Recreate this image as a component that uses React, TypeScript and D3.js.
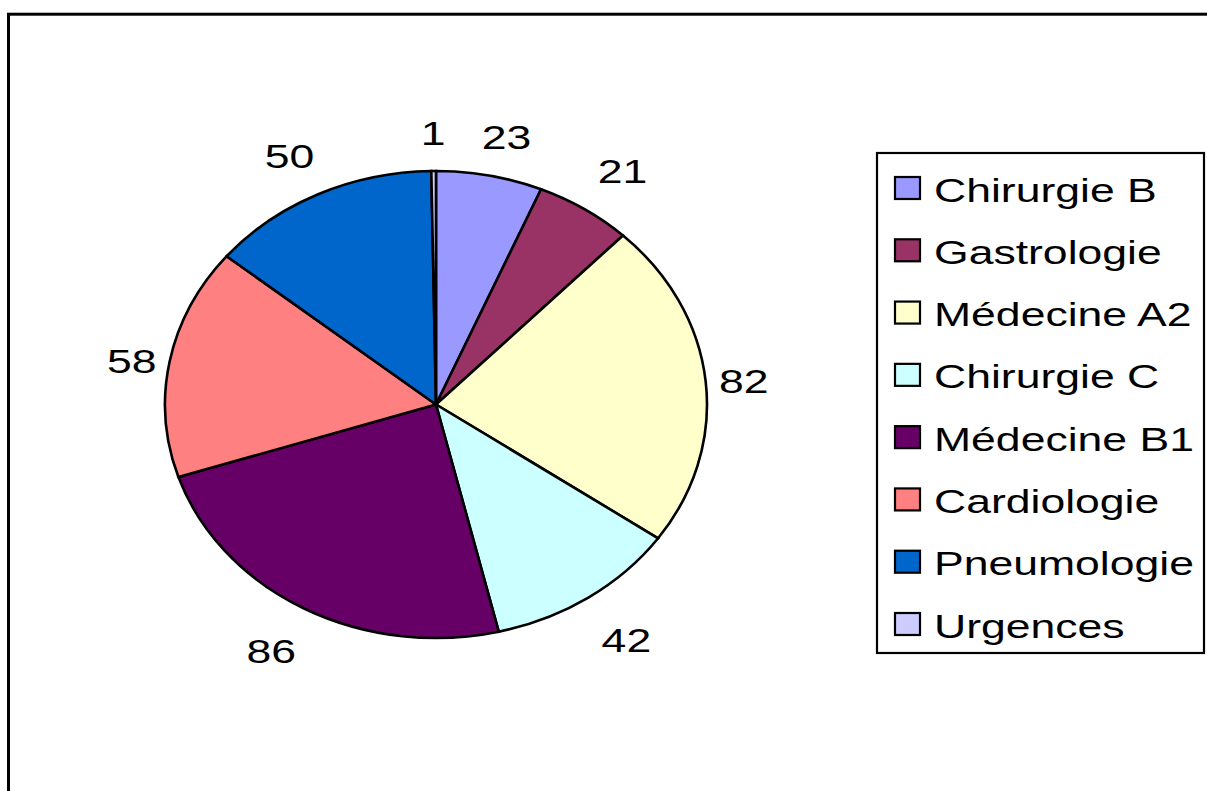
import React from "react";
import * as d3 from "d3";

const categories = [
  "Chirurgie B",
  "Gastrologie",
  "Médecine A2",
  "Chirurgie C",
  "Médecine B1",
  "Cardiologie",
  "Pneumologie",
  "Urgences",
];
const values = [23, 21, 82, 42, 86, 58, 50, 1];
const colors = [
  "#9999FF",
  "#993366",
  "#FFFFCC",
  "#CCFFFF",
  "#660066",
  "#FF8080",
  "#0066CC",
  "#CCCCFF",
];

const W = 1207;
const H = 791;
const CX = 436;
const CY = 404.5;
const RX = 271;
const RY = 233.5;
const FONT = "'Liberation Sans', Arial, sans-serif";
const FS = 33;
const SX = 1.35;

function slicePath(a0: number, a1: number) {
  const p = d3.path();
  p.moveTo(CX, CY);
  p.lineTo(CX + RX * Math.sin(a0), CY - RY * Math.cos(a0));
  const large = a1 - a0 > Math.PI ? 1 : 0;
  const x1 = CX + RX * Math.sin(a1);
  const y1 = CY - RY * Math.cos(a1);
  p.closePath();
  const base = p.toString().replace(/Z$/, "");
  return `${base}A${RX},${RY},0,${large},1,${x1},${y1}Z`;
}

export default function App() {
  const pie = d3
    .pie<number>()
    .sort(null)
    .value((d) => d)
    .startAngle(0)
    .endAngle(2 * Math.PI);
  const arcs = pie(values);

  const legendY = d3
    .scalePoint<string>()
    .domain(categories)
    .range([188, 624]);

  const labels = arcs.map((a, i) => {
    const mid = (a.startAngle + a.endAngle) / 2;
    const s = Math.sin(mid);
    const c = Math.cos(mid);
    const ex = CX + RX * s;
    const ey = CY - RY * c;
    const kx = s >= 0 ? 85 : 66;
    const dx = Math.sign(s) * Math.min(Math.abs(s) * kx, 38);
    const ky = c >= 0 ? 38 : 43;
    const dy =
      -Math.sign(c) * Math.max(0, Math.min((Math.abs(c) - 0.2) * 80, ky));
    return { x: ex + dx, y: ey + dy, text: String(values[i]) };
  });

  return (
    <svg
      width={W}
      height={H}
      style={{ position: "absolute", left: 0, top: 0, background: "#fff" }}
    >
      <rect
        x={8.5}
        y={14.2}
        width={1250}
        height={850}
        fill="#fff"
        stroke="#000"
        strokeWidth={3}
      />
      {arcs.map((a, i) => (
        <path
          key={i}
          d={slicePath(a.startAngle, a.endAngle)}
          fill={colors[i]}
          stroke="#000"
          strokeWidth={2.6}
          strokeLinejoin="miter"
        />
      ))}
      {labels.map((l, i) => (
        <text
          key={i}
          transform={`translate(${l.x},${l.y + 11.8}) scale(${SX},1)`}
          textAnchor="middle"
          fontFamily={FONT}
          fontSize={FS}
          fill="#000"
        >
          {l.text}
        </text>
      ))}
      <rect
        x={877}
        y={153}
        width={327}
        height={500}
        fill="#fff"
        stroke="#000"
        strokeWidth={2.2}
      />
      {categories.map((cat, i) => {
        const y = legendY(cat) as number;
        return (
          <g key={cat}>
            <rect
              x={895}
              y={y - 11}
              width={25}
              height={22}
              fill={colors[i]}
              stroke="#000"
              strokeWidth={2.2}
            />
            <text
              transform={`translate(934,${y + 13.5}) scale(${SX},1)`}
              fontFamily={FONT}
              fontSize={FS}
              fill="#000"
            >
              {cat}
            </text>
          </g>
        );
      })}
    </svg>
  );
}
